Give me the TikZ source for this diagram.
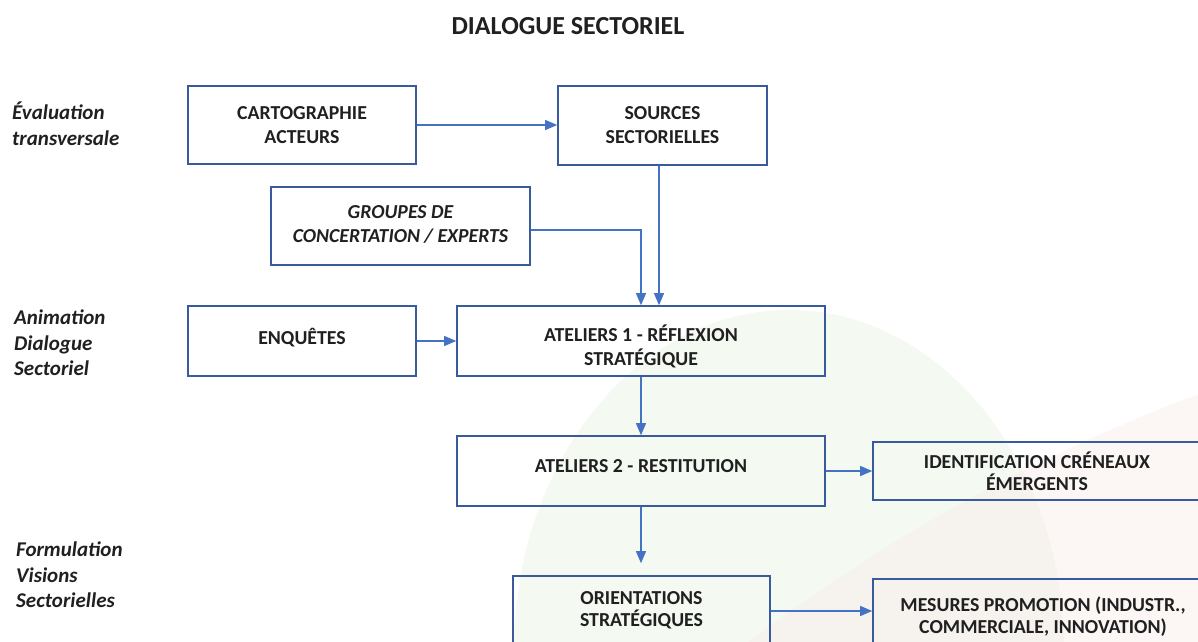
\documentclass[tikz,border=0pt]{standalone}
\usepackage{fontspec}
\setmainfont{Carlito}
\usetikzlibrary{arrows.meta,calc}
\definecolor{boxblue}{HTML}{3A5A9E}
\definecolor{arrblue}{HTML}{4472C4}
\definecolor{txt}{HTML}{202020}
\definecolor{bggreen}{HTML}{F4F9F2}
\definecolor{bgred}{HTML}{F9EEEC}
\tikzset{
  box/.style={draw=boxblue, line width=1.6pt, inner sep=0pt, align=center,
    text=txt, font=\fontsize{19.8}{24}\selectfont\bfseries},
  lbl/.style={anchor=west, align=left, inner sep=0pt, text=txt,
    font=\fontsize{21}{25.5}\selectfont\bfseries\itshape},
  arr/.style={draw=arrblue, line width=1.1pt, -{Triangle[length=12pt,width=10pt]}}
}
\begin{document}
\begin{tikzpicture}[x=1pt,y=-1pt]
\useasboundingbox (0,0) rectangle (1198,641);
\clip (0,0) rectangle (1198,641);
% background shapes
\fill[bggreen] (789,650) ellipse [x radius=275, y radius=340];
\fill[bgred, opacity=0.55] (1814,2048) circle [radius=1764];
% title
\node[text=txt, font=\fontsize{26}{30}\selectfont\bfseries] (title) at (568,26) {DIALOGUE SECTORIEL};
% side labels
\node[lbl] (l1) at (12,124) {Évaluation\\transversale};
\node[lbl] (l2) at (14,343) {Animation\\Dialogue\\Sectoriel};
\node[lbl] (l3) at (16,575) {Formulation\\Visions\\Sectorielles};
% boxes
\node[box, minimum width=228, minimum height=78] (carto) at (302,125) {CARTOGRAPHIE\\ACTEURS};
\node[box, minimum width=209, minimum height=79] (sources) at (662.5,125.5) {SOURCES\\SECTORIELLES};
\node[box, minimum width=259, minimum height=78, font=\fontsize{19.8}{24}\selectfont\bfseries\itshape] (groupes) at (400.5,226) {\raisebox{8pt}{\begin{tabular}{@{}c@{}}GROUPES DE\\[0pt]CONCERTATION / EXPERTS\end{tabular}}};
\node[box, minimum width=228, minimum height=70] (enq) at (302,341) {\raisebox{10pt}{ENQUÊTES}};
\node[box, minimum width=368, minimum height=70] (at1) at (641,341) {\raisebox{-12.7pt}[0pt][0pt]{\begin{tabular}{@{}c@{}}ATELIERS 1 - RÉFLEXION\\[0pt]STRATÉGIQUE\end{tabular}}};
\node[box, minimum width=368, minimum height=70] (at2) at (641,471) {\raisebox{10pt}{ATELIERS 2 - RESTITUTION}};
\node[box, minimum width=328, minimum height=58, font=\fontsize{19.8}{22}\selectfont\bfseries] (ident) at (1037,471) {IDENTIFICATION CRÉNEAUX\\ÉMERGENTS};
\node[box, minimum width=257, minimum height=70, font=\fontsize{19.8}{23}\selectfont\bfseries] (orient) at (641.5,611) {\raisebox{10pt}{\begin{tabular}{@{}c@{}}ORIENTATIONS\\[-1pt]STRATÉGIQUES\end{tabular}}};
\node[box, minimum width=340, minimum height=76, font=\fontsize{19.8}{22}\selectfont\bfseries] (mesures) at (1043,617) {MESURES PROMOTION (INDUSTR.,\\COMMERCIALE, INNOVATION)};
% connectors
\draw[arr] (carto.east) -- (carto.east -| sources.west);
\draw[arr] ([xshift=-3.5pt]sources.south) -- ([xshift=-3.5pt]sources.south |- at1.north);
\draw[arr] ([yshift=-4pt]groupes.east) -| (at1.north);
\draw[arr] (enq.east) -- (at1.west);
\draw[arr] (at1.south) -- (at2.north);
\draw[arr] (at2.east) -- (at2.east -| ident.west);
\draw[arr, shorten >=12pt] (at2.south) -- (at2.south |- orient.north);
\draw[arr] (orient.east) -- (orient.east -| mesures.west);
\end{tikzpicture}
\end{document}
